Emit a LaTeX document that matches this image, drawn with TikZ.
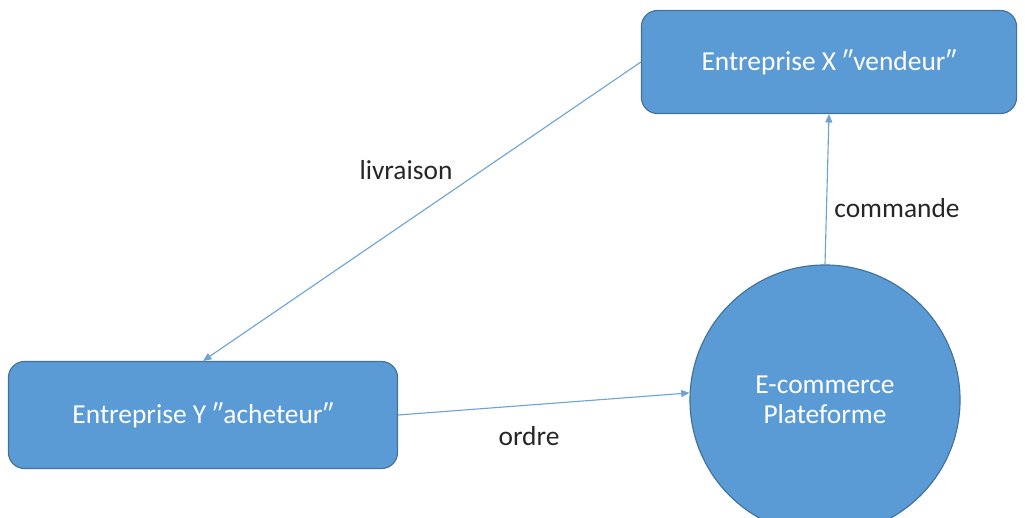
\documentclass[tikz,border=0pt]{standalone}
\usepackage{fontspec}
\setmainfont{Carlito}
\usetikzlibrary{arrows.meta}
\definecolor{boxblue}{HTML}{5B9BD5}
\definecolor{boxline}{HTML}{41719C}
\definecolor{linkblue}{HTML}{6FA3D6}
\begin{document}
\begin{tikzpicture}[x=0.025cm, y=-0.025cm]
    \useasboundingbox (0,0) rectangle (1025,518);
    \begin{scope}
        \tikzstyle{every node}=[fill=boxblue, draw=boxline, thick, text=white, font=\fontsize{19.5}{21}\selectfont]
        \node[rounded corners=0.4cm, minimum width=9.375cm, minimum height=2.575cm] (X) at (829,62) {Entreprise X ″vendeur″};
        \node[rounded corners=0.4cm, minimum width=9.725cm, minimum height=2.675cm] (Y) at (203,415) {Entreprise Y ″acheteur″};
        \node[circle, minimum size=6.75cm, align=center] (C) at (825,400) {E-commerce\\Plateforme};
    \end{scope}
    \begin{scope}
        \tikzstyle{every node}=[text=black!85, font=\fontsize{19.5}{23}\selectfont]
        \node (livraison) at (406,170) {livraison};
        \node (commande) at (897,208) {commande};
        \node (ordre) at (529,436) {ordre};
    \end{scope}
    \begin{scope}
        \tikzstyle{every edge}=[draw, linkblue, line width=0.8pt, -{Triangle[length=6pt, width=5pt]}]
        \path
        (X.west) edge (Y.north)
        (Y.east) edge (C.177)
        (C.north) edge (X.south);
    \end{scope}
\end{tikzpicture}
\end{document}
